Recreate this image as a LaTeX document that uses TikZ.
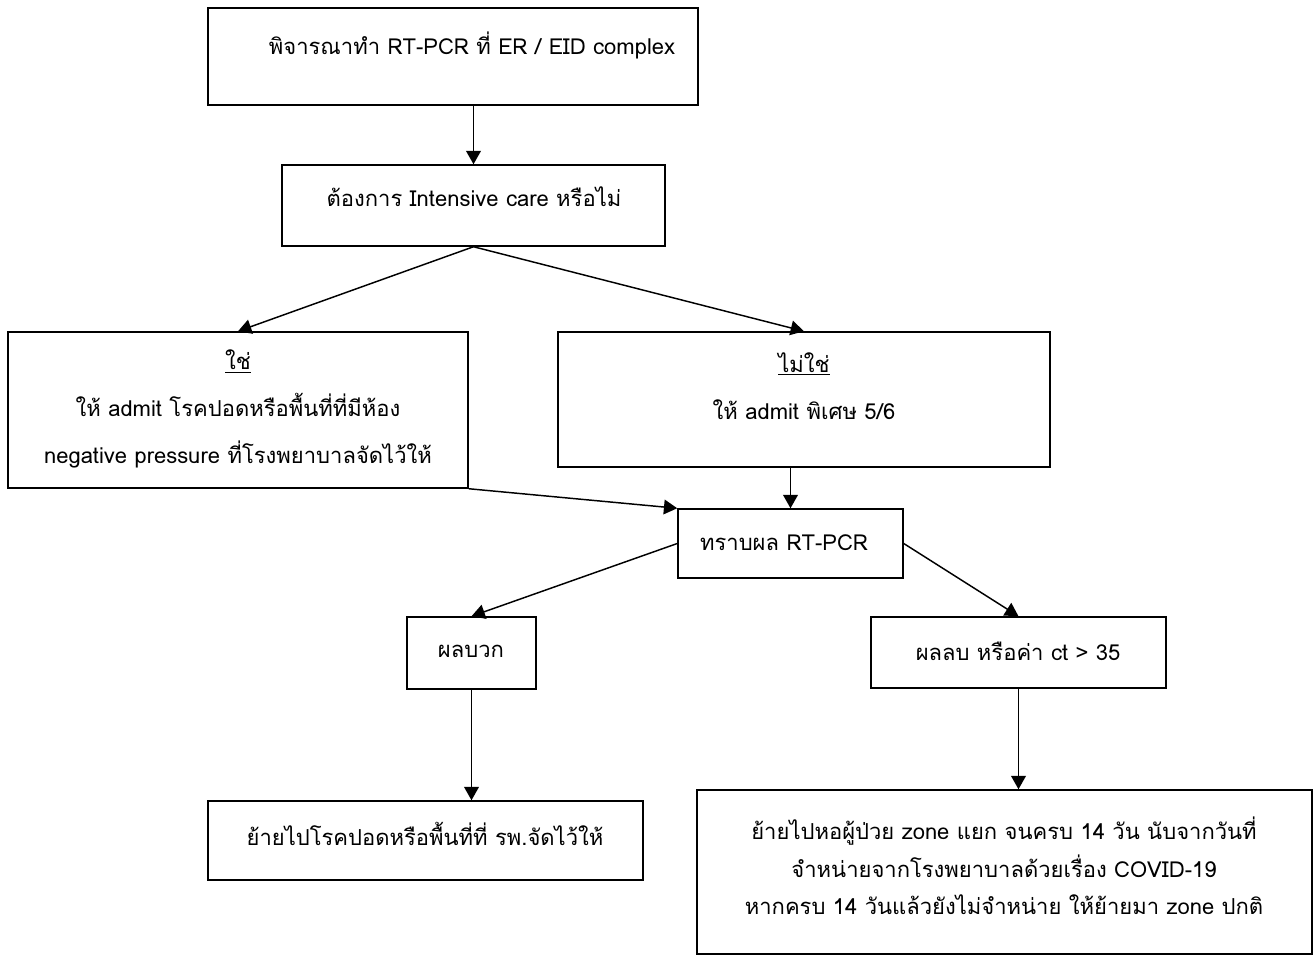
\documentclass[tikz,border=0pt]{standalone}
\usepackage{fontspec}
\setmainfont[Script=Thai]{Loma}
\usetikzlibrary{arrows.meta,fit}
\begin{document}
\begin{tikzpicture}[x=0.75pt,y=-0.75pt,
  box/.style={draw, line width=1.1pt, inner sep=0pt},
  txt/.style={inner sep=0pt, align=center, font=\fontsize{16.5}{28}\selectfont},
  wide/.style={font=\fontsize{16.5}{35}\selectfont},
  arr/.style={draw, line width=1.1pt, -{Triangle[length=10pt,width=11pt]}}]
\useasboundingbox (0,0) rectangle (1314,956);
% boxes
\node[box, fit={(208,8) (698,105)}] (b1) {};
\node[box, fit={(282,165) (665,246)}] (b2) {};
\node[box, fit={(8,332) (468,488)}] (yes) {};
\node[box, fit={(558,332) (1050,467)}] (no) {};
\node[box, fit={(678,509) (903,578)}] (pcr) {};
\node[box, fit={(407,617) (536,689)}] (pos) {};
\node[box, fit={(871,617) (1166,688)}] (neg) {};
\node[box, fit={(208,801) (643,880)}] (b8) {};
\node[box, fit={(697,790) (1312,954)}] (b9) {};
% texts
\node[txt] (t1) at (472,45) {พิจารณาทำ RT-PCR ที่ ER / EID complex};
\node[txt] (t2) at (474,197) {ต้องการ Intensive care หรือไม่};
\node[txt, wide] (t3) at (238,409) {\underline{ใช่}\\ให้ admit โรคปอดหรือพื้นที่ที่มีห้อง\\negative pressure ที่โรงพยาบาลจัดไว้ให้};
\node[txt, wide] (t4) at (804,386) {\underline{ไม่ใช่}\\ให้ admit พิเศษ 5/6};
\node[txt] (t5) at (784,543) {ทราบผล RT-PCR};
\node[txt] (t6) at (471,651) {ผลบวก};
\node[txt] (t7) at (1018,651) {ผลลบ หรือค่า ct > 35};
\node[txt] (t8) at (425,834) {ย้ายไปโรคปอดหรือพื้นที่ที่ รพ.จัดไว้ให้};
\node[txt] (t9) at (1004,866) {ย้ายไปหอผู้ป่วย zone แยก จนครบ 14 วัน นับจากวันที่\\จำหน่ายจากโรงพยาบาลด้วยเรื่อง COVID-19\\หากครบ 14 วันแล้วยังไม่จำหน่าย ให้ย้ายมา zone ปกติ};
% connectors
\draw[arr] (b2.north |- b1.south) -- (b2.north);
\draw[arr] (b2.south) -- (yes.north);
\draw[arr] (b2.south) -- (no.north);
\draw[arr] (yes.south east) -- (pcr.north west);
\draw[arr] (pcr.north |- no.south) -- (pcr.north);
\draw[arr] (pcr.west) -- (pos.north);
\draw[arr] (pcr.east) -- (neg.north);
\draw[arr] (pos.south) -- (pos.south |- b8.north);
\draw[arr] (neg.south) -- (neg.south |- b9.north);
\end{tikzpicture}
\end{document}
